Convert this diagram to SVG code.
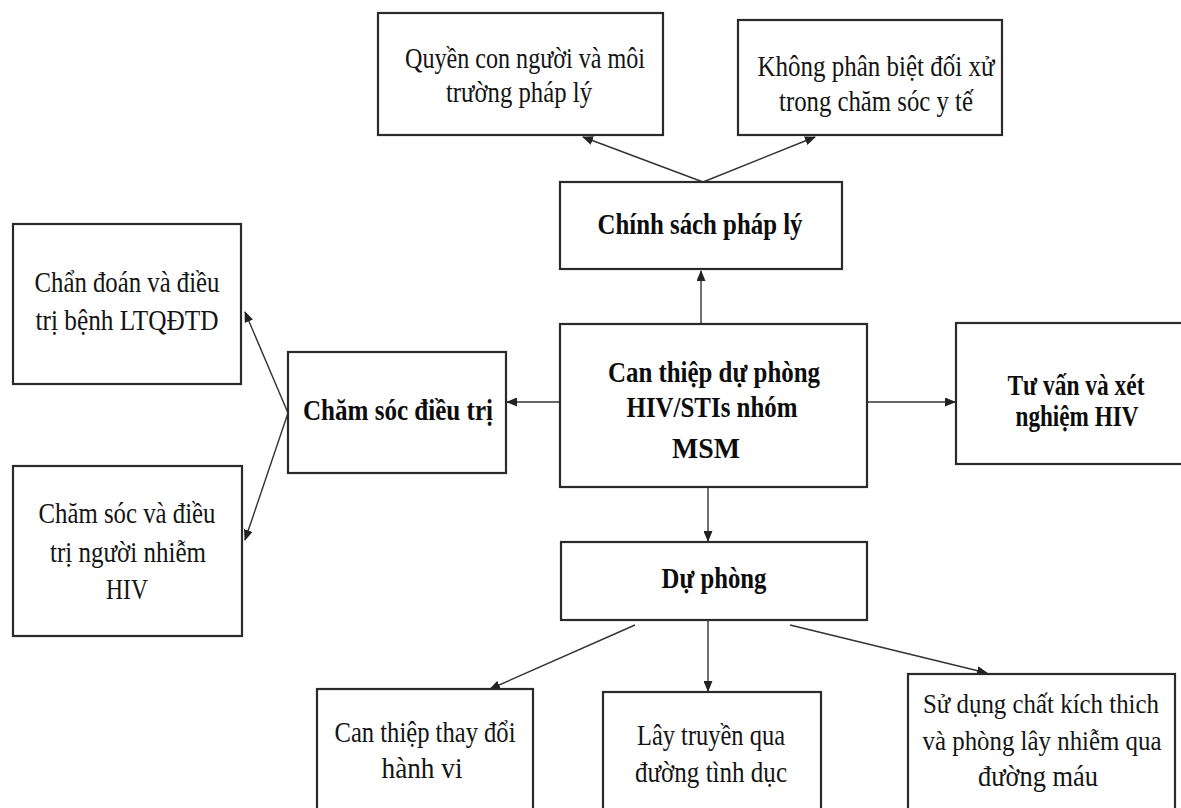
<svg xmlns="http://www.w3.org/2000/svg" width="1181" height="808" viewBox="0 0 1181 808">
<style>
.box{fill:#fff;stroke:#2a2a2a;stroke-width:2.2}
.t{font-family:"Liberation Serif","Times New Roman",serif;font-size:30px;fill:#141414;text-anchor:middle}
.s{font-size:27px}
.b{font-family:"Liberation Serif","Times New Roman",serif;font-size:29px;font-weight:bold;fill:#0d0d0d;text-anchor:middle}
.c{fill:none;stroke:#333;stroke-width:1.4}
</style>
<defs>
<marker id="ah" markerUnits="userSpaceOnUse" markerWidth="11" markerHeight="9" refX="10" refY="4.5" orient="auto">
<path d="M0,0 L11,4.5 L0,9 z" fill="#222"/>
</marker>
</defs>
<rect width="1181" height="808" fill="#fff"/>

<g id="connectors">
<line class="c" x1="703" y1="182" x2="583" y2="137" marker-end="url(#ah)"/>
<line class="c" x1="703" y1="182" x2="815" y2="137" marker-end="url(#ah)"/>
<line class="c" x1="701" y1="323" x2="701" y2="271" marker-end="url(#ah)"/>
<line class="c" x1="560" y1="402" x2="507" y2="402" marker-end="url(#ah)"/>
<line class="c" x1="867" y1="402" x2="955" y2="402" marker-end="url(#ah)"/>
<line class="c" x1="708" y1="487" x2="708" y2="541" marker-end="url(#ah)"/>
<line class="c" x1="288" y1="413" x2="245" y2="312" marker-end="url(#ah)"/>
<line class="c" x1="288" y1="413" x2="245" y2="540" marker-end="url(#ah)"/>
<line class="c" x1="635" y1="625" x2="490" y2="689" marker-end="url(#ah)"/>
<line class="c" x1="708" y1="620" x2="708" y2="691" marker-end="url(#ah)"/>
<line class="c" x1="790" y1="625" x2="987" y2="673" marker-end="url(#ah)"/>
</g>

<g id="n-quyen">
<rect class="box" x="378" y="13" width="285" height="122"/>
<text class="t" x="525" y="68" textLength="240" lengthAdjust="spacingAndGlyphs">Quyền con người và môi</text>
<text class="t" x="519" y="102" textLength="146" lengthAdjust="spacingAndGlyphs">trường pháp lý</text>
</g>

<g id="n-khong">
<rect class="box" x="738" y="20" width="264" height="115"/>
<text class="t" x="876" y="76" textLength="237" lengthAdjust="spacingAndGlyphs">Không phân biệt đối xử</text>
<text class="t" x="876" y="111" textLength="194" lengthAdjust="spacingAndGlyphs">trong chăm sóc y tế</text>
</g>

<g id="n-chinhsach">
<rect class="box" x="560" y="182" width="282" height="87"/>
<text class="b" x="700" y="234" textLength="205" lengthAdjust="spacingAndGlyphs">Chính sách pháp lý</text>
</g>

<g id="n-chandoan">
<rect class="box" x="13" y="224" width="228" height="160"/>
<text class="t" x="127" y="292" textLength="185" lengthAdjust="spacingAndGlyphs">Chẩn đoán và điều</text>
<text class="t" x="127" y="330" textLength="183" lengthAdjust="spacingAndGlyphs">trị bệnh LTQĐTD</text>
</g>

<g id="n-chamsocHIV">
<rect class="box" x="13" y="466" width="229" height="170"/>
<text class="t" x="127" y="523" textLength="177" lengthAdjust="spacingAndGlyphs">Chăm sóc và điều</text>
<text class="t" x="128" y="562" textLength="156" lengthAdjust="spacingAndGlyphs">trị người nhiễm</text>
<text class="t" x="127" y="599" textLength="42" lengthAdjust="spacingAndGlyphs">HIV</text>
</g>

<g id="n-chamsoc">
<rect class="box" x="288" y="352" width="218" height="121"/>
<text class="b" x="398" y="420" textLength="190" lengthAdjust="spacingAndGlyphs">Chăm sóc điều trị</text>
</g>

<g id="n-center">
<rect class="box" x="560" y="324" width="307" height="163"/>
<text class="b" x="714" y="382" textLength="212" lengthAdjust="spacingAndGlyphs">Can thiệp dự phòng</text>
<text class="b" x="712" y="417" textLength="171" lengthAdjust="spacingAndGlyphs">HIV/STIs nhóm</text>
<text class="b" x="706" y="458" textLength="68" lengthAdjust="spacingAndGlyphs">MSM</text>
</g>

<g id="n-tuvan">
<rect class="box" x="956" y="323" width="245" height="141"/>
<text class="b" x="1076" y="395" textLength="137" lengthAdjust="spacingAndGlyphs">Tư vấn và xét</text>
<text class="b" x="1077" y="426" textLength="123" lengthAdjust="spacingAndGlyphs">nghiệm HIV</text>
</g>

<g id="n-duphong">
<rect class="box" x="561" y="542" width="306" height="78"/>
<text class="b" x="714" y="588" textLength="105" lengthAdjust="spacingAndGlyphs">Dự phòng</text>
</g>

<g id="n-canthiep">
<rect class="box" x="317" y="689" width="216" height="140"/>
<text class="t" x="425" y="742" textLength="181" lengthAdjust="spacingAndGlyphs">Can thiệp thay đổi</text>
<text class="t" x="422" y="778" textLength="81" lengthAdjust="spacingAndGlyphs">hành vi</text>
</g>

<g id="n-laytruyen">
<rect class="box" x="603" y="692" width="218" height="140"/>
<text class="t" x="711" y="745" textLength="148" lengthAdjust="spacingAndGlyphs">Lây truyền qua</text>
<text class="t" x="711" y="782" textLength="152" lengthAdjust="spacingAndGlyphs">đường tình dục</text>
</g>

<g id="n-sudung">
<rect class="box" x="908" y="674" width="267" height="160"/>
<text class="t s" x="1041" y="713" textLength="236" lengthAdjust="spacingAndGlyphs">Sử dụng chất kích thich</text>
<text class="t s" x="1042" y="750" textLength="239" lengthAdjust="spacingAndGlyphs">và phòng lây nhiễm qua</text>
<text class="t" x="1038" y="786" textLength="120" lengthAdjust="spacingAndGlyphs">đường máu</text>
</g>
</svg>
